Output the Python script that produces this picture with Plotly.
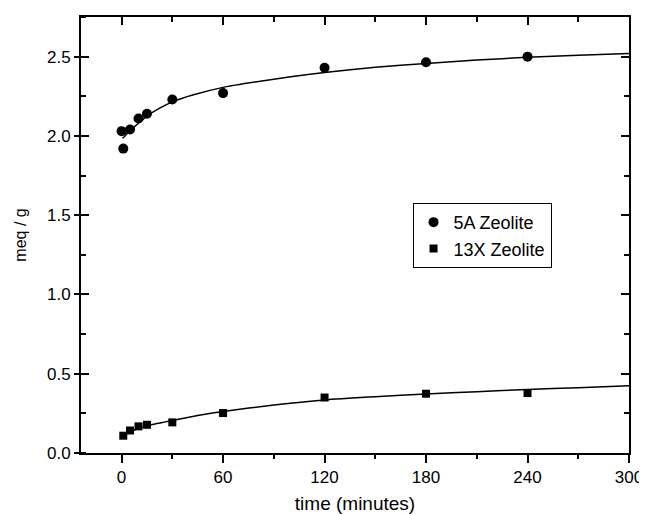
import plotly.graph_objects as go

# Measured data
time_5a = [0, 1, 5, 10, 15, 30, 60, 120, 180, 240]
meq_5a = [2.03, 1.92, 2.04, 2.11, 2.14, 2.23, 2.27, 2.43, 2.465, 2.50]
time_13x = [1, 5, 10, 15, 30, 60, 120, 180, 240]
meq_13x = [0.109, 0.142, 0.168, 0.178, 0.193, 0.252, 0.35, 0.374, 0.378]

# Fitted curves
fit_time_5a = [0.5, 2, 5, 10, 15, 22.5, 30, 42, 60, 80, 100, 120, 150, 180, 210, 240, 270, 300]
fit_meq_5a = [1.985, 2.00, 2.035, 2.08, 2.125, 2.175, 2.215, 2.258, 2.306, 2.342, 2.373, 2.40,
              2.433, 2.457, 2.478, 2.496, 2.509, 2.52]
fit_time_13x = [0.5, 5, 10, 15, 30, 45, 60, 90, 120, 150, 180, 210, 240, 270, 300]
fit_meq_13x = [0.105, 0.133, 0.155, 0.172, 0.205, 0.236, 0.262, 0.303, 0.335, 0.355, 0.372,
               0.387, 0.40, 0.412, 0.424]

x_ticks = [0, 60, 120, 180, 240, 300]
y_ticks = [0.0, 0.5, 1.0, 1.5, 2.0, 2.5]

FONT = "Liberation Sans, Arial, sans-serif"
X_RANGE = [-24, 300]
Y_RANGE = [0, 2.75]

fig = go.Figure()

fig.add_trace(go.Scatter(x=fit_time_5a, y=fit_meq_5a, mode="lines",
                         line=dict(color="black", width=1.5, shape="spline", smoothing=0.6),
                         showlegend=False, hoverinfo="skip"))
fig.add_trace(go.Scatter(x=fit_time_13x, y=fit_meq_13x, mode="lines",
                         line=dict(color="black", width=1.5, shape="spline", smoothing=0.6),
                         showlegend=False, hoverinfo="skip"))
fig.add_trace(go.Scatter(x=time_5a, y=meq_5a, mode="markers", name="5A Zeolite",
                         marker=dict(symbol="circle", size=10, color="black")))
fig.add_trace(go.Scatter(x=time_13x, y=meq_13x, mode="markers", name="13X Zeolite",
                         marker=dict(symbol="square", size=8, color="black")))

common_axis = dict(showgrid=False, zeroline=False, showline=True, linecolor="black",
                   linewidth=2, tickcolor="black", tickwidth=1.5, automargin=False)

fig.update_layout(
    width=639, height=506,
    margin=dict(l=73, r=18, t=9, b=61),
    paper_bgcolor="white", plot_bgcolor="white",
    font=dict(family=FONT, size=16, color="black"),
    xaxis=dict(**common_axis, range=X_RANGE, tickmode="array", tickvals=x_ticks,
               ticks="outside", ticklen=8,
               minor=dict(dtick=30, tick0=0, ticks="outside", ticklen=4,
                          tickcolor="black", tickwidth=1.5),
               tickfont=dict(size=17),
               title=dict(text="time (minutes)", font=dict(size=19), standoff=12)),
    xaxis2=dict(**common_axis, range=X_RANGE, overlaying="x", side="top", anchor="y",
                tickmode="array", tickvals=x_ticks, ticks="inside", ticklen=8,
                minor=dict(dtick=30, tick0=0, ticks="inside", ticklen=5,
                           tickcolor="black", tickwidth=1.5),
                showticklabels=False),
    yaxis=dict(**common_axis, range=Y_RANGE, tickmode="array", tickvals=y_ticks,
               tickformat=".1f", ticks="outside", ticklen=5,
               minor=dict(dtick=0.25, tick0=0, ticks="inside", ticklen=5,
                          tickcolor="black", tickwidth=1.5),
               tickfont=dict(size=17),
               title=dict(text="meq / g", font=dict(size=16), standoff=16)),
    yaxis2=dict(**common_axis, range=Y_RANGE, overlaying="y", side="right", anchor="x",
                tickmode="array", tickvals=y_ticks, ticks="inside", ticklen=8,
                minor=dict(dtick=0.25, tick0=0, ticks="inside", ticklen=5,
                           tickcolor="black", tickwidth=1.5),
                showticklabels=False),
    yaxis3=dict(**common_axis, range=Y_RANGE, overlaying="y", side="left", anchor="x",
                tickmode="array", tickvals=y_ticks, ticks="inside", ticklen=8,
                showticklabels=False),
    legend=dict(x=0.605, y=0.5735, xanchor="left", yanchor="top",
                bgcolor="white", bordercolor="black", borderwidth=1,
                font=dict(size=18), itemwidth=30, tracegroupgap=0),
    showlegend=True,
)

# dummy traces to activate the overlay axes
fig.add_trace(go.Scatter(x=[None], y=[None], xaxis="x2", yaxis="y", showlegend=False, hoverinfo="skip"))
fig.add_trace(go.Scatter(x=[None], y=[None], xaxis="x", yaxis="y2", showlegend=False, hoverinfo="skip"))
fig.add_trace(go.Scatter(x=[None], y=[None], xaxis="x", yaxis="y3", showlegend=False, hoverinfo="skip"))

fig.write_html("out.html")
